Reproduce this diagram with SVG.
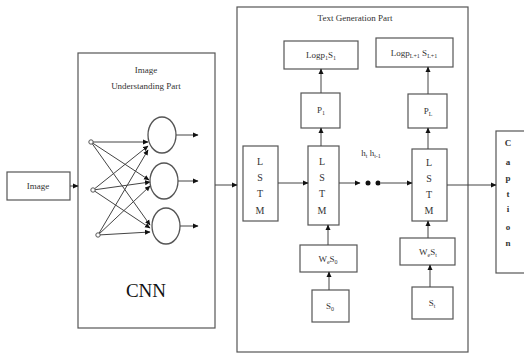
<svg xmlns="http://www.w3.org/2000/svg" width="524" height="354" viewBox="0 0 524 354">
<style>
.b{fill:#fff;stroke:#555;stroke-width:1.2}
.l{stroke:#444;stroke-width:1;fill:none}
.t{font-family:"Liberation Serif","Times New Roman",serif;font-size:9px;fill:#333;text-anchor:middle}
.s{font-size:6px}
.lt{font-family:"Liberation Serif","Times New Roman",serif;font-size:10px;fill:#333;text-anchor:middle}
</style>
<defs>
<marker id="a" markerWidth="6" markerHeight="6" refX="5" refY="3" orient="auto" markerUnits="userSpaceOnUse">
<path d="M0,0.5 L5.5,3 L0,5.5 Z" fill="#111"/>
</marker>
</defs>
<rect width="524" height="354" fill="#fff"/>

<g id="image"><rect class="b" x="7" y="172" width="63" height="28"/><text class="t" x="38" y="189">Image</text></g>

<g id="cnn">
<rect class="b" x="78" y="53" width="137" height="275"/>
<text class="t" x="146" y="73">Image</text>
<text class="t" x="146" y="89">Understanding Part</text>
<text x="146" y="297" font-family="Liberation Serif, serif" font-size="19" fill="#111" text-anchor="middle">CNN</text>
<g class="l" marker-end="url(#a)">
<line x1="91" y1="142" x2="148" y2="142"/>
<line x1="91" y1="142" x2="149" y2="180"/>
<line x1="91" y1="142" x2="150" y2="225"/>
<line x1="93" y1="190" x2="148" y2="146"/>
<line x1="93" y1="190" x2="150" y2="182"/>
<line x1="93" y1="190" x2="150" y2="228"/>
<line x1="98" y1="235" x2="148" y2="150"/>
<line x1="98" y1="235" x2="150" y2="186"/>
<line x1="98" y1="235" x2="150" y2="232"/>
<line x1="176" y1="135" x2="198" y2="135"/>
<line x1="178" y1="181" x2="198" y2="181"/>
<line x1="180" y1="226" x2="198" y2="226"/>
</g>
<g fill="#fff" stroke="#555" stroke-width="1">
<circle cx="91" cy="142" r="2.2"/><circle cx="93" cy="190" r="2.2"/><circle cx="98" cy="235" r="2.2"/>
</g>
<g fill="none" stroke="#555" stroke-width="1.3">
<ellipse cx="162" cy="135" rx="14" ry="18"/>
<ellipse cx="164" cy="181" rx="14" ry="18"/>
<ellipse cx="166" cy="226" rx="14" ry="18"/>
</g>
</g>

<g id="textgen">
<rect class="b" x="237" y="7" width="231" height="345"/>
<text class="t" x="355" y="21">Text Generation Part</text>
</g>

<g id="logp1"><rect class="b" x="284" y="41" width="74" height="28"/><text class="t" x="321" y="58">Logp<tspan class="s" dy="2">1</tspan><tspan dy="-2">S</tspan><tspan class="s" dy="2">1</tspan></text></g>
<g id="logpL"><rect class="b" x="376" y="38" width="77" height="29"/><text class="t" x="414" y="56">Logp<tspan class="s" dy="2">L+1</tspan><tspan dy="-2"> S</tspan><tspan class="s" dy="2">L+1</tspan></text></g>
<g id="p1"><rect class="b" x="301" y="93" width="39" height="35"/><text class="t" x="321" y="113">P<tspan class="s" dy="2">1</tspan></text></g>
<g id="pL"><rect class="b" x="408" y="94" width="39" height="34"/><text class="t" x="428" y="114">P<tspan class="s" dy="2">L</tspan></text></g>

<g id="lstm1"><rect class="b" x="243" y="146" width="35" height="75"/>
<text class="lt" x="260" y="165">L</text><text class="lt" x="260" y="181">S</text><text class="lt" x="260" y="197">T</text><text class="lt" x="260" y="214">M</text></g>
<g id="lstm2"><rect class="b" x="308" y="146" width="31" height="79"/>
<text class="lt" x="322" y="165">L</text><text class="lt" x="322" y="181">S</text><text class="lt" x="322" y="197">T</text><text class="lt" x="322" y="214">M</text></g>
<g id="lstm3"><rect class="b" x="412" y="149" width="35" height="72"/>
<text class="lt" x="429" y="166">L</text><text class="lt" x="429" y="182">S</text><text class="lt" x="429" y="198">T</text><text class="lt" x="429" y="214">M</text></g>

<g id="ht"><text class="t" x="371" y="156">h<tspan class="s" dy="2">t</tspan><tspan dy="-2"> h</tspan><tspan class="s" dy="2">t-1</tspan></text></g>

<g id="wes0"><rect class="b" x="300" y="245" width="57" height="27"/><text class="t" x="328" y="262">W<tspan class="s" dy="2">e</tspan><tspan dy="-2">S</tspan><tspan class="s" dy="2">0</tspan></text></g>
<g id="s0"><rect class="b" x="312" y="290" width="37" height="32"/><text class="t" x="330" y="309">S<tspan class="s" dy="2">0</tspan></text></g>
<g id="west"><rect class="b" x="400" y="238" width="55" height="27"/><text class="t" x="428" y="255">W<tspan class="s" dy="2">e</tspan><tspan dy="-2">S</tspan><tspan class="s" dy="2">t</tspan></text></g>
<g id="st"><rect class="b" x="412" y="287" width="41" height="32"/><text class="t" x="432" y="306">S<tspan class="s" dy="2">t</tspan></text></g>

<g id="caption"><rect class="b" x="496" y="131" width="40" height="142"/>
<g class="t" font-weight="bold"><text x="508" y="146">C</text><text x="508" y="165">a</text><text x="508" y="181">p</text><text x="508" y="197">t</text><text x="508" y="212">i</text><text x="508" y="230">o</text><text x="508" y="246">n</text></g></g>

<g id="connectors" class="l" marker-end="url(#a)">
<line x1="70" y1="186" x2="78" y2="186"/>
<line x1="215" y1="185" x2="237" y2="185"/>
<line x1="278" y1="183" x2="308" y2="183"/>
<line x1="339" y1="183" x2="360" y2="183"/>
<line x1="381" y1="183" x2="412" y2="183"/>
<line x1="447" y1="185" x2="496" y2="185"/>
<line x1="321" y1="146" x2="321" y2="128"/>
<line x1="321" y1="93" x2="321" y2="69"/>
<line x1="428" y1="149" x2="428" y2="128"/>
<line x1="428" y1="94" x2="428" y2="67"/>
<line x1="328" y1="245" x2="328" y2="225"/>
<line x1="329" y1="290" x2="329" y2="272"/>
<line x1="428" y1="238" x2="428" y2="221"/>
<line x1="430" y1="287" x2="430" y2="265"/>
<circle cx="368" cy="183" r="2.5" fill="#111" stroke="none" marker-end="none"/>
<circle cx="378" cy="183" r="2.5" fill="#111" stroke="none" marker-end="none"/>
</g>
</svg>
